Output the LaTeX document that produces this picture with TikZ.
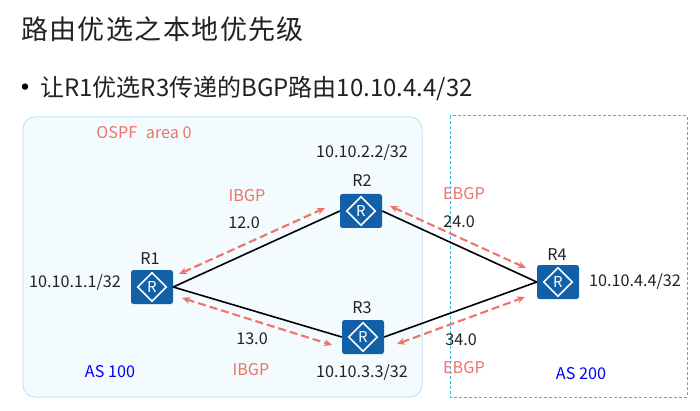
\documentclass[tikz,border=0pt]{standalone}
\usepackage{fontspec}
\setmainfont{Noto Sans CJK SC}
\usetikzlibrary{shapes.geometric,arrows.meta}
\definecolor{rblue}{HTML}{1160A8}
\definecolor{salmon}{HTML}{F0736A}
\definecolor{txt}{HTML}{222222}
\definecolor{areafill}{HTML}{F3FBFF}
\definecolor{arealine}{HTML}{BDE8F8}
\definecolor{asline}{HTML}{33B9EE}
\tikzset{
  router/.style={fill=rblue,rounded corners=2.5pt,minimum width=42pt,minimum height=34pt,inner sep=0pt},
  rmark/.style={diamond,draw=white,line width=1.6pt,minimum width=29pt,minimum height=29pt,inner sep=0pt,text=white,font=\fontsize{15}{15}\selectfont},
  lbl/.style={text=txt,inner sep=0pt,font=\fontsize{16.2}{18}\selectfont},
  redlbl/.style={text=salmon,inner sep=0pt,font=\fontsize{16.2}{18}\selectfont},
  bluelbl/.style={text=blue,inner sep=0pt,font=\fontsize{16.2}{18}\selectfont},
  link/.style={draw=black,line width=1.6pt},
  bgp/.style={draw=salmon,line width=2.1pt,dash pattern=on 8pt off 4pt,{Stealth[length=8pt,width=7pt]}-{Stealth[length=8pt,width=7pt]}},
}
\begin{document}
\begin{tikzpicture}[x=1pt,y=-1pt]
\useasboundingbox (0,0) rectangle (700,411);
\fill[white] (0,0) rectangle (700,411);
\node[anchor=west,inner sep=0pt,text=txt,font=\fontsize{27}{28}\selectfont] (title) at (21,29.5) {\addfontfeature{LetterSpace=5.2}路由优选之本地优先级};
\node[anchor=center,inner sep=0pt,text=black,font=\fontsize{30}{30}\selectfont] (bullet) at (25,91) {•};
\node[anchor=west,inner sep=0pt,text=txt,font=\fontsize{24}{26}\selectfont] (sub) at (40,89) {让R1优选R3传递的BGP路由10.10.4.4/32};
\path[fill=areafill,draw=arealine,line width=1pt,rounded corners=12pt] (23,117) rectangle (422,397);
\draw[draw=asline,line width=1pt,dash pattern=on 3pt off 2pt] (450,116) rectangle (687,397);
\node[router] (r1) at (152,287) {};
\node[router] (r2) at (361,211) {};
\node[router] (r3) at (363,337) {};
\node[router] (r4) at (558,282) {};
\foreach \r in {r1,r2,r3,r4} \node[rmark] at (\r) {R};
\draw[link] (r1.east) -- (r2.west);
\draw[link] (r1.east) -- (r3.west);
\draw[link] (r2.east) -- (r4.west);
\draw[link] (r3.east) -- (r4.west);
\coordinate (a1) at (179,274); \coordinate (a2) at (325,208);
\coordinate (b1) at (182,298); \coordinate (b2) at (332,345);
\coordinate (c1) at (390,206); \coordinate (c2) at (526,268);
\coordinate (d1) at (397,344); \coordinate (d2) at (525,297);
\draw[bgp] (a1) -- (a2);
\draw[bgp] (b1) -- (b2);
\draw[bgp] (c1) -- (c2);
\draw[bgp] (d1) -- (d2);
\node[lbl] (lr1) at (150,259) {R1};
\node[lbl] (lr2) at (362,181) {R2};
\node[lbl] (lr3) at (362,308) {R3};
\node[lbl] (lr4) at (557,255) {R4};
\node[lbl] (n1) at (75,283) {10.10.1.1/32};
\node[lbl] (n2) at (362,153) {10.10.2.2/32};
\node[lbl] (n3) at (362,373) {10.10.3.3/32};
\node[lbl] (n4) at (635,282) {10.10.4.4/32};
\node[lbl] (w12) at (244,223) {12.0};
\node[lbl] (w13) at (252,339) {13.0};
\node[lbl] (w24) at (459,222) {24.0};
\node[lbl] (w34) at (461,340) {34.0};
\node[redlbl] (i1) at (247,196) {IBGP};
\node[redlbl] (i2) at (251,370) {IBGP};
\node[redlbl] (e1) at (464,194) {EBGP};
\node[redlbl] (e2) at (464,368) {EBGP};
\node[redlbl] (ospf) at (144,132.5) {OSPF\hspace{5pt} area 0};
\node[bluelbl] (as1) at (110,372) {AS 100};
\node[bluelbl] (as2) at (581,374) {AS 200};
\end{tikzpicture}
\end{document}
